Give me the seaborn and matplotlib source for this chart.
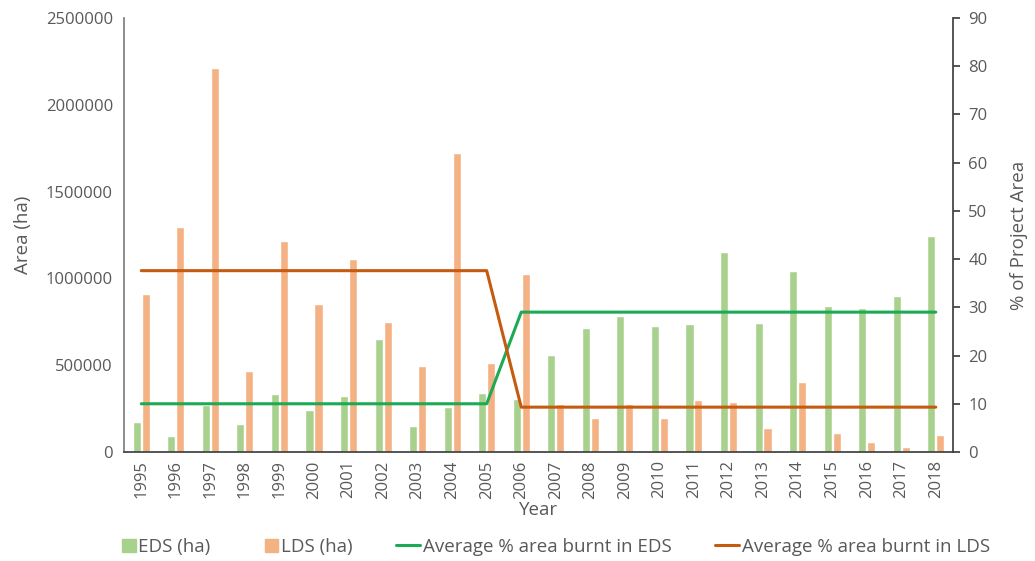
import numpy as np
import pandas as pd
import matplotlib
matplotlib.use('Agg')
import matplotlib.pyplot as plt
import seaborn as sns
from matplotlib.patches import Patch, Rectangle
from matplotlib.lines import Line2D
from matplotlib.legend_handler import HandlerPatch

years = [str(y) for y in range(1995, 2019)]
eds_ha = [175000, 92000, 270000, 161000, 334000, 242000, 324000, 649000, 152000, 261000,
          340000, 303000, 557000, 713000, 786000, 728000, 737000, 1150000, 743000, 1043000,
          840000, 830000, 900000, 1245000]
lds_ha = [910000, 1298000, 2214000, 467000, 1217000, 851000, 1110000, 747000, 497000, 1720000,
          514000, 1023000, 275000, 194000, 275000, 194000, 298000, 290000, 140000, 401000,
          110000, 55000, 30000, 97000]
avg_eds = [10.0] * 11 + [29.0] * 13
avg_lds = [37.6] * 11 + [9.3] * 13

sns.set_theme(style='white')
plt.rcParams['font.family'] = ['Open Sans', 'DejaVu Sans']

c_eds, c_lds = '#A9D18E', '#F4B183'
c_leds, c_llds = '#1DAA55', '#C55A11'
grey = '#595959'

df = pd.DataFrame({'Year': years * 2,
                   'Area': eds_ha + lds_ha,
                   'Series': ['EDS (ha)'] * 24 + ['LDS (ha)'] * 24})

fig = plt.figure(figsize=(10.35, 5.61), dpi=100)
ax = fig.add_axes([0.1198, 0.1943, 0.8010, 0.7737])
sns.barplot(data=df, x='Year', y='Area', hue='Series', palette=[c_eds, c_lds],
            width=0.52, gap=0.1, ax=ax, legend=False, saturation=1)
ax.set_xlim(-0.5, 23.5)
ax.set_ylim(0, 2500000)
ax.set_yticks(np.arange(0, 2500001, 500000))
ax.set_yticklabels([str(v) for v in range(0, 2500001, 500000)])
ax.tick_params(axis='y', length=0, labelsize=12, labelcolor=grey, pad=8)
ax.tick_params(axis='x', length=0, labelsize=12, labelcolor=grey, rotation=90, pad=6)
ax.set_xlabel('Year', fontsize=13.5, color=grey, labelpad=2)
ax.set_ylabel('Area (ha)', fontsize=13.5, color=grey, labelpad=10)
for s in ['top', 'right']:
    ax.spines[s].set_visible(False)
ax.spines['left'].set_color('#7f7f7f')
ax.spines['bottom'].set_color('#404040')

ax2 = ax.twinx()
xs = np.arange(24)
sns.lineplot(x=xs, y=avg_eds, color=c_leds, linewidth=2.2, ax=ax2)
sns.lineplot(x=xs, y=avg_lds, color=c_llds, linewidth=2.2, ax=ax2)
ax2.set_ylim(0, 90)
ax2.set_yticks(range(0, 91, 10))
ax2.tick_params(axis='y', length=5, color='#404040', labelsize=12, labelcolor=grey, pad=6,
                right=True, direction='out')
ax2.set_ylabel('% of Project Area', fontsize=13.5, color=grey, labelpad=16)
for s in ['top', 'left', 'bottom']:
    ax2.spines[s].set_visible(False)
ax2.spines['right'].set_color('#404040')


def square(legend, orig_handle, xdescent, ydescent, width, height, fontsize):
    side = height * 1.0
    return Rectangle((width - side - xdescent, -ydescent), side, side)


handles = [Patch(color=c_eds), Patch(color=c_lds),
           Line2D([], [], color=c_leds, lw=2.2), Line2D([], [], color=c_llds, lw=2.2)]
labels = ['EDS (ha)', 'LDS (ha)', 'Average % area burnt in EDS', 'Average % area burnt in LDS']
fig.legend(handles, labels, loc='center', bbox_to_anchor=(0.532, 0.025), ncol=4, frameon=False,
           fontsize=13.5, labelcolor=grey, handlelength=1.3, handletextpad=0.15, columnspacing=2.3,
           handler_map={Patch: HandlerPatch(patch_func=square)})

fig.savefig('out.png', dpi=100)
